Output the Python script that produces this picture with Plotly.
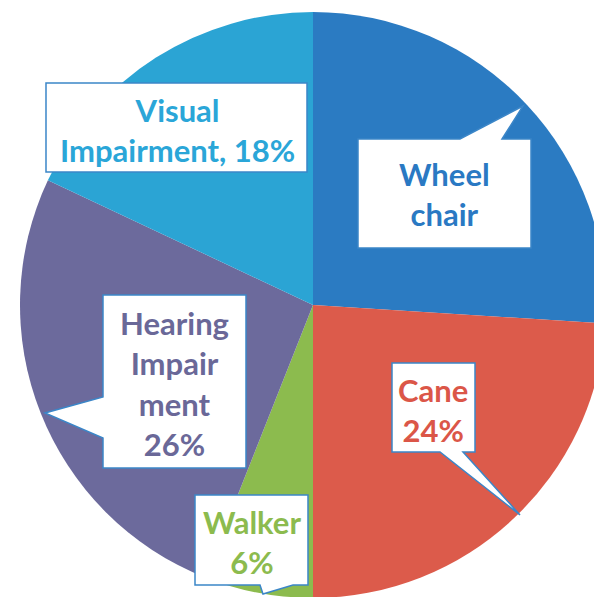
import plotly.graph_objects as go

# ---- data ----
categories = ["Wheel chair", "Cane", "Walker", "Hearing Impairment", "Visual Impairment"]
values = [26, 24, 6, 26, 18]
slice_colors = ["#2b7bc2", "#dc5b4b", "#8cbb4e", "#6c6a9c", "#2ba4d4"]
label_texts = [
    "Wheel<br>chair",
    "Cane<br>24%",
    "Walker<br>6%",
    "Hearing<br>Impair<br>ment<br>26%",
    "Visual<br>Impairment, 18%",
]
text_colors = ["#2a79c3", "#db5648", "#8cbb4e", "#6a6898", "#2aa6d8"]

# ---- canvas (pixels) ----
W, H = 620, 610
CX, CY, R = 313, 305, 293


def px(x, y):
    return x / W, 1 - y / H


def path_from(points):
    parts = []
    for i, (x, y) in enumerate(points):
        u, v = px(x, y)
        parts.append(("M" if i == 0 else "L") + f"{u:.5f},{v:.5f}")
    return " ".join(parts) + " Z"


fig = go.Figure(
    go.Pie(
        labels=categories,
        values=values,
        sort=False,
        direction="clockwise",
        rotation=0,
        marker=dict(colors=slice_colors, line=dict(width=0)),
        textinfo="none",
        hoverinfo="label+percent",
        showlegend=False,
        domain=dict(
            x=[(CX - R) / W, (CX + R) / W],
            y=[1 - (CY + R) / H, 1 - (CY - R) / H],
        ),
    )
)

# callout bubbles (box + tail), pixel outlines
bubbles = [
    # Wheel chair: tail up-right from top edge
    [(358, 139), (460, 139), (523, 106), (502, 139), (531, 139), (531, 248), (358, 248)],
    # Cane: tail down-right from bottom edge
    [(392, 363), (475, 363), (475, 452), (463, 452), (520, 515), (440, 452), (392, 452)],
    # Walker: tail down from bottom edge
    [(195, 495), (308, 495), (308, 585), (293, 585), (263, 594), (260, 585), (195, 585)],
    # Hearing: tail left from left edge
    [(103, 295), (246, 295), (246, 468), (103, 468), (103, 438), (45, 413), (103, 397)],
    # Visual: plain box
    [(46, 83), (307, 83), (307, 172), (46, 172)],
]
label_pos = [(444, 194), (433, 410), (252, 542), (174, 383), (177, 130)]

shapes = []
for pts in bubbles:
    shapes.append(
        dict(
            type="path",
            xref="paper",
            yref="paper",
            path=path_from(pts),
            fillcolor="white",
            line=dict(color="#3b86c8", width=1.5),
            layer="above",
        )
    )

annotations = []
for txt, col, (x, y) in zip(label_texts, text_colors, label_pos):
    u, v = px(x, y)
    annotations.append(
        dict(
            x=u,
            y=v,
            xref="paper",
            yref="paper",
            text=f"<b>{txt}</b>",
            showarrow=False,
            xanchor="center",
            yanchor="middle",
            align="center",
            font=dict(family="Lato", size=31, color=col),
        )
    )

fig.update_layout(
    width=W,
    height=H,
    margin=dict(l=0, r=0, t=0, b=0),
    paper_bgcolor="white",
    plot_bgcolor="white",
    shapes=shapes,
    annotations=annotations,
)

fig.write_html(
    "out.html",
    config={"displayModeBar": False},
    post_script="document.body.style.margin='0';document.body.style.overflow='hidden';",
)
